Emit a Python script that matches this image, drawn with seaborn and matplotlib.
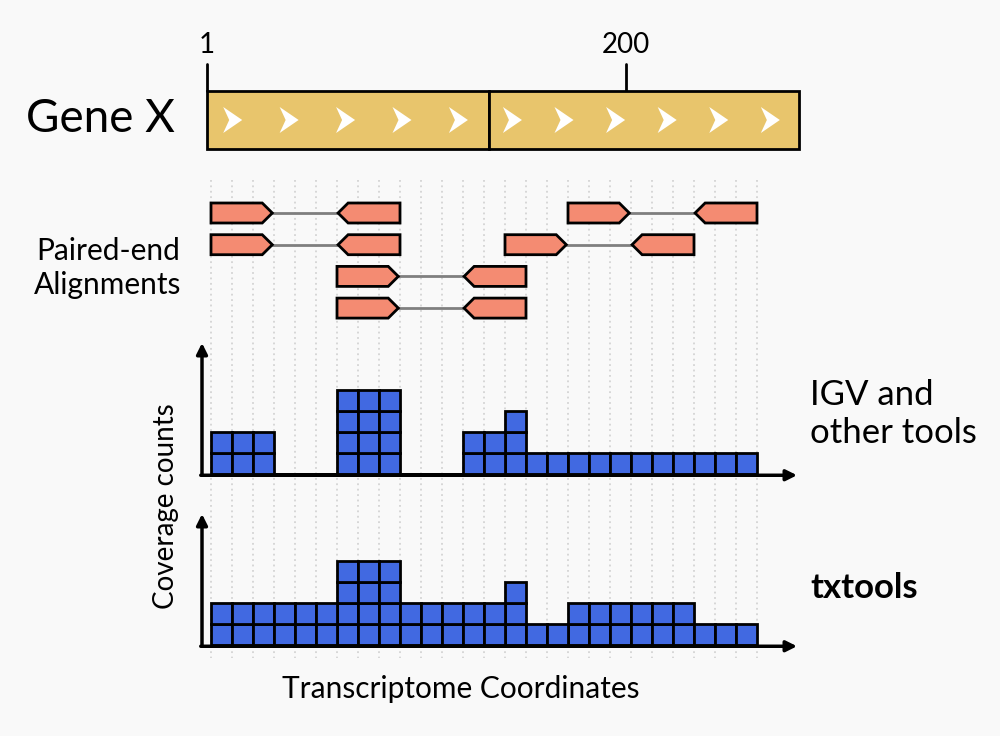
import matplotlib
matplotlib.use("Agg")
import matplotlib.pyplot as plt
import numpy as np
import pandas as pd
import seaborn as sns
from matplotlib.patches import Polygon, Rectangle

# gene model (nucleotides)
GENE_LEN = 282
EXON_END = 135
GENE_TICKS = [1, 200]
CHEVRONS_PER_EXON = [5, 6]

# paired-end reads: row, start cell of forward mate, start cell of reverse mate
READ_ROW = [0, 1, 2, 3, 0, 1]
READ_FWD = [0, 0, 6, 6, 17, 14]
READ_REV = [6, 6, 12, 12, 23, 20]
MATE_LEN = 3

# coverage per transcript cell
COV_IGV = [2, 2, 2, 0, 0, 0, 4, 4, 4, 0, 0, 0, 2, 2, 3, 1, 1, 1, 1, 1, 1, 1, 1, 1, 1, 1]
COV_TXTOOLS = [2, 2, 2, 2, 2, 2, 4, 4, 4, 2, 2, 2, 2, 2, 3, 1, 1, 2, 2, 2, 2, 2, 2, 1, 1, 1]

W, H = 1000, 736
CELL = 21        # px per transcript cell
X0 = 211         # px of cell 0
BG = "#f9f9f9"
GOLD = "#e8c56c"
SALMON = "#f48b72"
BLUE = "#4169e1"

sns.set_style("white")
plt.rcParams["font.family"] = ["Lato", "DejaVu Sans"]
plt.rcParams["text.color"] = "black"


def px_axes(fig, l, t, r, b):
    ax = fig.add_axes([l / W, 1 - b / H, (r - l) / W, (b - t) / H])
    ax.set_axis_off()
    return ax


def cell_lim(l, r):
    return (l - X0) / CELL, (r - X0) / CELL


def gene_track(fig):
    nt_px = (626 - 207) / (GENE_TICKS[1] - GENE_TICKS[0])
    ax = px_axes(fig, 190, 20, 810, 160)
    ax.set_xlim(1 + (190 - 207) / nt_px, 1 + (810 - 207) / nt_px)
    ax.set_ylim(160, 20)
    top, bot = 91, 149
    exons = [(1, EXON_END), (EXON_END, GENE_LEN)]
    for (s, e), n in zip(exons, CHEVRONS_PER_EXON):
        ax.add_patch(Rectangle((s, top), e - s, bot - top, facecolor=GOLD,
                               edgecolor="black", lw=2, zorder=2))
        step = (e - s) / n
        for i in range(n):
            cx = s + (i + 0.5) * step - 3 / nt_px
            cy = (top + bot) / 2
            pts = [(-9, -13), (10, 0), (-9, 13), (-3, 0)]
            ax.add_patch(Polygon([(cx + dx / nt_px, cy + dy) for dx, dy in pts],
                                 closed=True, facecolor="white", edgecolor="none", zorder=3))
    for t in GENE_TICKS:
        ax.plot([t, t], [64, top], color="black", lw=2, zorder=1)
        ax.text(t, 45, str(t), ha="center", va="center", fontsize=20)


def reads_track(fig):
    ax = px_axes(fig, 190, 170, 805, 665)
    ax.set_xlim(*cell_lim(190, 805))
    ax.set_ylim(665, 170)
    ax.vlines(np.arange(len(COV_IGV) + 1), 180, 658, colors="#d4d4d4",
              linestyles=(0, (1, 2)), lw=1.3, zorder=0)
    h = 10
    tip = 0.48
    for row, f, r in zip(READ_ROW, READ_FWD, READ_REV):
        yc = 213 + row * 31.7
        fe = f + MATE_LEN - 0.08
        rs = r + 0.05
        re = r + MATE_LEN
        ax.plot([fe, rs], [yc, yc], color="#7f7f7f", lw=2, zorder=1)
        fwd = [(f, yc - h), (fe - tip, yc - h), (fe, yc), (fe - tip, yc + h), (f, yc + h)]
        rev = [(re, yc - h), (rs + tip, yc - h), (rs, yc), (rs + tip, yc + h), (re, yc + h)]
        for pts in (fwd, rev):
            ax.add_patch(Polygon(pts, closed=True, facecolor=SALMON, edgecolor="black",
                                 lw=2, joinstyle="miter", zorder=2))


def coverage_panel(fig, cov, base):
    ax = fig.add_axes([190 / W, 1 - (base + 12) / H, 615 / W, 155 / H])
    rows = []
    for k, c in enumerate(cov):
        for j in range(c):
            rows.append({"pos": k + 0.5, "layer": f"L{j}"})
    df = pd.DataFrame(rows)
    levels = sorted(df["layer"].unique())
    sns.histplot(data=df, x="pos", hue="layer", hue_order=levels, multiple="stack",
                 discrete=True, shrink=1, palette=[BLUE] * len(levels), alpha=1,
                 edgecolor="black", linewidth=2, legend=False, ax=ax)
    ax.set_xlim(*cell_lim(190, 805))
    ax.set_ylim(-12 / CELL, 143 / CELL)
    ax.set_axis_off()
    ax0 = (202 - X0) / CELL
    arrow = dict(arrowstyle="-|>", lw=2.5, color="black", mutation_scale=16,
                 shrinkA=0, shrinkB=0)
    ax.annotate("", xy=(ax0, 131 / CELL), xytext=(ax0, -0.06), arrowprops=arrow)
    ax.annotate("", xy=((797 - X0) / CELL, -0.06), xytext=(ax0 - 0.06, -0.06), arrowprops=arrow)


fig = plt.figure(figsize=(W / 100, H / 100), dpi=100, facecolor=BG)
bg = fig.add_axes([0, 0, 1, 1])
bg.set_xlim(0, W)
bg.set_ylim(H, 0)
bg.set_axis_off()

bg.text(100, 119, "Gene X", ha="center", va="center", fontsize=33)
bg.text(108, 268, "Paired-end\nAlignments", ha="center", va="center", fontsize=21.5,
        linespacing=1.3)
bg.text(810, 414, "IGV and\nother tools", ha="left", va="center", fontsize=25,
        linespacing=1.25)
bg.text(810, 588, "txtools", ha="left", va="center", fontsize=25, fontweight="bold")
bg.text(166, 506, "Coverage counts", ha="center", va="center", fontsize=20, rotation=90)
bg.text(461, 689, "Transcriptome Coordinates", ha="center", va="center", fontsize=21.5)

gene_track(fig)
reads_track(fig)
coverage_panel(fig, COV_IGV, 474)
coverage_panel(fig, COV_TXTOOLS, 645)

fig.savefig("out.png", dpi=100, facecolor=BG)
